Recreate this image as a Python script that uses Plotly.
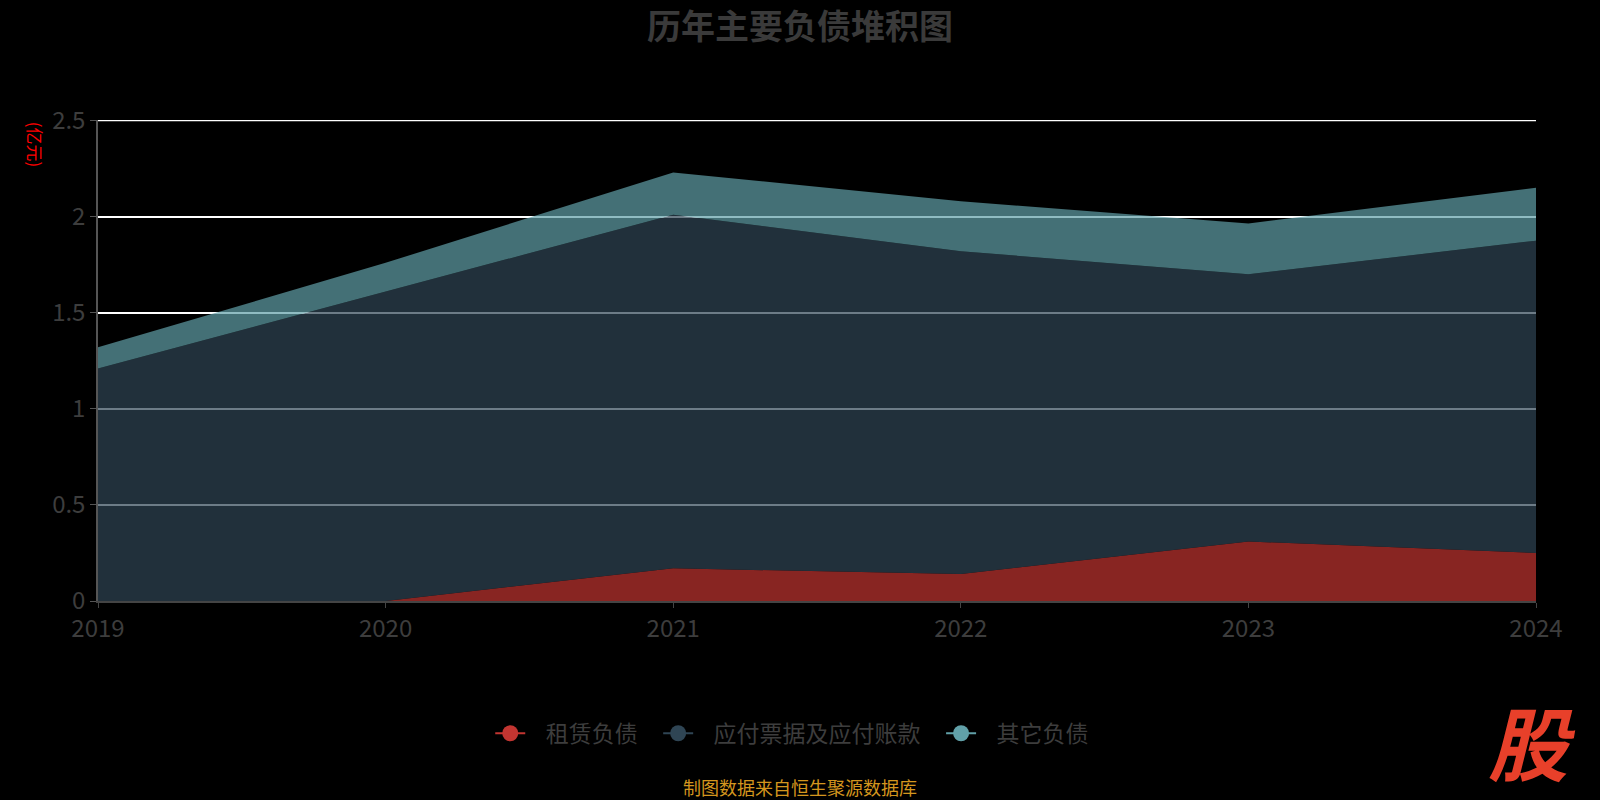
import plotly.graph_objects as go

years = [2019, 2020, 2021, 2022, 2023, 2024]
lease = [0, 0, 0.17, 0.14, 0.31, 0.25]
payables = [1.21, 1.61, 1.84, 1.68, 1.39, 1.625]
other = [0.11, 0.15, 0.22, 0.26, 0.265, 0.275]
y_ticks = [0, 0.5, 1, 1.5, 2, 2.5]

names = ["租赁负债", "应付票据及应付账款", "其它负债"]
colors = ["#c23531", "#2f4554", "#61a0a8"]
fills = ["rgba(194,53,49,0.7)", "rgba(47,69,84,0.7)", "rgba(97,160,168,0.7)"]
series = [lease, payables, other]

font_family = "Noto Sans CJK SC, Noto Sans, sans-serif"
NB = "\u00a0"

fig = go.Figure()
for name, vals, fc in zip(names, series, fills):
    fig.add_trace(go.Scatter(
        x=years, y=vals, name=name, stackgroup="one", mode="lines",
        line=dict(width=0, color=fc), fillcolor=fc, showlegend=False,
        hoverinfo="x+y+name",
    ))
for name, c in zip(names, colors):
    fig.add_trace(go.Scatter(
        x=[None], y=[None], name=NB * 3 + name + NB * 3, mode="lines+markers",
        line=dict(color=c, width=2), marker=dict(color=c, size=16),
        showlegend=True,
    ))

fig.update_layout(
    width=1600, height=800,
    paper_bgcolor="#000000", plot_bgcolor="#000000",
    margin=dict(l=98, r=64, t=120, b=199),
    font=dict(family=font_family, color="#3d3d3d"),
    title=dict(text="<b>历年主要负债堆积图</b>", x=0.5, xanchor="center",
               y=0.966, yanchor="middle",
               font=dict(size=34, color="#3a3a3a", family=font_family)),
    showlegend=True,
    legend=dict(orientation="h", x=0.488, xanchor="center", y=-0.275, yanchor="middle",
                traceorder="normal",
                font=dict(size=23, color="#3d3d3d"),
                bgcolor="rgba(0,0,0,0)"),
    xaxis=dict(range=[2019, 2024], dtick=1, tick0=2019, showgrid=False,
               showline=True, linecolor="#444444", linewidth=2,
               ticks="outside", ticklen=5, tickcolor="#444444",
               tickfont=dict(size=24, color="#3d3d3d"), zeroline=False),
    yaxis=dict(range=[0, 2.503], tickmode="array", tickvals=y_ticks,
               ticktext=[f"{v:g}" for v in y_ticks], showgrid=True,
               gridcolor="#ffffff", gridwidth=1.5,
               showline=True, linecolor="#555555", linewidth=1.5,
               ticks="outside", ticklen=6, tickcolor="#555555",
               tickfont=dict(size=24, color="#3d3d3d"), zeroline=False),
    shapes=[dict(type="line", xref="paper", yref="y", x0=0, x1=1,
                 y0=y_ticks[-1], y1=y_ticks[-1], layer="below",
                 line=dict(color="#ffffff", width=1.5))],
    annotations=[
        dict(text="(亿元)", xref="paper", yref="paper", x=-0.043, y=1.0,
             xanchor="center", yanchor="top", textangle=90, showarrow=False,
             font=dict(size=17, color="#ff0000", family=font_family)),
        dict(text="制图数据来自恒生聚源数据库", xref="paper", yref="paper",
             x=0.488, y=-0.386, xanchor="center", yanchor="middle", showarrow=False,
             font=dict(size=18, color="#d4961e", family=font_family)),
        dict(text="<b><i>股</i></b>", xref="paper", yref="paper",
             x=0.997, y=-0.29, xanchor="center", yanchor="middle", showarrow=False,
             font=dict(size=80, color="#e8402a", family=font_family)),
    ],
)

fig.write_html("out.html", config={"displayModeBar": False},
               post_script="document.body.style.margin='0';document.body.style.overflow='hidden';")
